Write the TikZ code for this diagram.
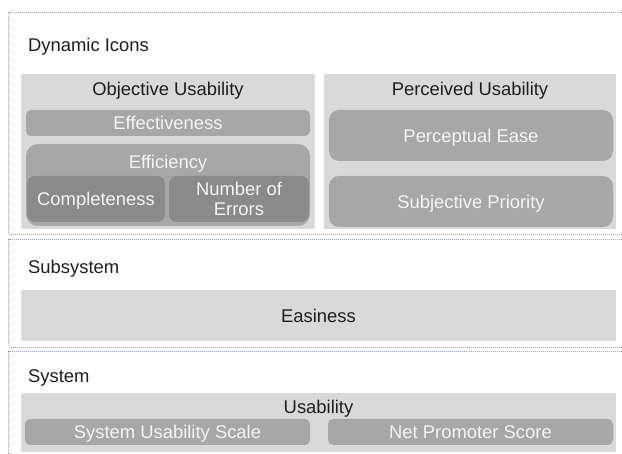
\documentclass[tikz,border=0pt]{standalone}
\usepackage{fontspec}
\setmainfont{Liberation Sans}
\usepackage{tikz}

\definecolor{framecol}{HTML}{9AA6B8}
\definecolor{lightgray}{HTML}{D9D9D9}
\definecolor{midgray}{HTML}{A7A7A7}
\definecolor{darkgray}{HTML}{8A8A8A}
\definecolor{inkblack}{HTML}{1E1E1E}
\definecolor{inkwhite}{HTML}{F4F4F4}

\begin{document}
\begin{tikzpicture}[x = 1pt, y = -1pt,
				frame/.style = {draw = framecol, line width = 0.8pt, 
				dash pattern = on 1pt off 1pt},
				txt/.style = {font = \fontsize{18.4}{20}\selectfont, 
				text height = 13.2pt, text depth = 0pt, inner sep = 0pt},
				head/.style = {txt, text = inkblack},
				light/.style = {rectangle, fill = lightgray, txt, 
				text = inkblack},
				mid/.style = {rectangle, fill = midgray, rounded corners = 5pt, 
				txt, text = inkwhite},
				dark/.style = {rectangle, fill = darkgray, rounded corners = 8pt, 
				txt, text = inkwhite}]

				\path [use as bounding box, fill = white] (0,0) rectangle (622,454);

				\draw [frame] (8.5,12) rectangle (626,234);
				\draw [frame] (8.5,239) rectangle (626,347);
				\draw [frame] (8.5,351) rectangle (626,462);

				\node [head, anchor = west] (t_1) at (28,45) {Dynamic Icons};

				\node [light, minimum width = 294pt, minimum height = 155pt] (b_1) at (168,151.5) {};
				\node [head] (t_2) at (168,88.5) {Objective Usability};
				\node [mid, minimum width = 284pt, minimum height = 26pt] (b_2) at (168,123) {Effectiveness};
				\node [mid, rounded corners = 12pt, minimum width = 284pt, minimum height = 82pt] (b_3) at (168,185) {};
				\node [txt, text = inkwhite] (t_3) at (168,161.5) {Efficiency};
				\node [dark, minimum width = 138pt, minimum height = 46pt] (b_4) at (96,199) {Completeness};
				\node [dark, align = center, text height = 33.2pt, minimum width = 140pt, 
				minimum height = 46pt] (b_5) at (239,199) {Number of\\Errors};

				\node [light, minimum width = 292pt, minimum height = 155pt] (b_6) at (470,151.5) {};
				\node [head] (t_4) at (470,88.5) {Perceived Usability};
				\node [mid, rounded corners = 10pt, minimum width = 284pt, minimum height = 51pt] (b_7) at (471,135.5) {Perceptual Ease};
				\node [mid, rounded corners = 10pt, minimum width = 284pt, minimum height = 51pt] (b_8) at (471,201.5) {Subjective Priority};

				\node [head, anchor = west] (t_5) at (28,266.5) {Subsystem};
				\node [light, minimum width = 595pt, minimum height = 51pt] (b_9) at (318.5,315.5) {Easiness};

				\node [head, anchor = west] (t_6) at (28,375.5) {System};
				\node [light, minimum width = 595pt, minimum height = 59pt] (b_10) at (318.5,422.5) {};
				\node [head] (t_7) at (318.5,406.5) {Usability};
				\node [mid, minimum width = 285pt, minimum height = 26pt] (b_11) at (167.5,432) {System Usability Scale};
				\node [mid, minimum width = 285pt, minimum height = 26pt] (b_12) at (470.5,432) {Net Promoter Score};
			\end{tikzpicture}
\end{document}
